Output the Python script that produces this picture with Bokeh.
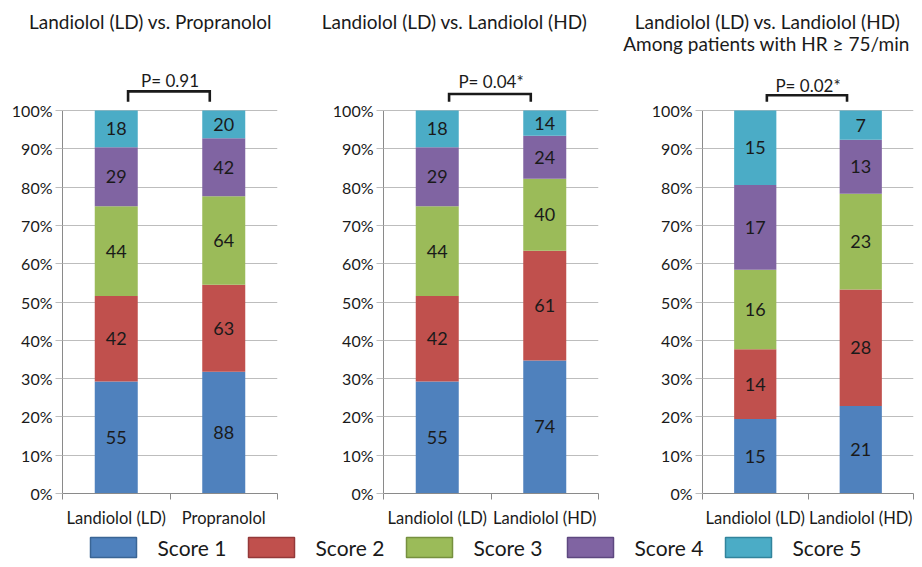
from bokeh.plotting import figure
from bokeh.models import Range1d, FixedTicker, ColumnDataSource, PrintfTickFormatter
from bokeh.layouts import row, column
from bokeh.embed import file_html
from bokeh.resources import INLINE
from bokeh.core.properties import value

# ---------------- data ----------------
scores = ["Score 1", "Score 2", "Score 3", "Score 4", "Score 5"]
colors = ["#4F81BD", "#C0504D", "#9BBB59", "#8064A2", "#4BACC6"]
edge_colors = ["#3A6595", "#94393A", "#76903F", "#5E4880", "#32849C"]

panel_titles = [
    ["Landiolol (LD) vs. Propranolol"],
    ["Landiolol (LD) vs. Landiolol (HD)"],
    ["Landiolol (LD) vs. Landiolol (HD)", "Among patients with HR \u2265 75/min"],
]
panel_categories = [
    ["Landiolol (LD)", "Propranolol"],
    ["Landiolol (LD)", "Landiolol (HD)"],
    ["Landiolol (LD)", "Landiolol (HD)"],
]
p_values = ["P= 0.91", "P= 0.04*", "P= 0.02*"]

# counts for Score 1..5
panel1_ld = [55, 42, 44, 29, 18]
panel1_prop = [88, 63, 64, 42, 20]
panel2_ld = [55, 42, 44, 29, 18]
panel2_hd = [74, 61, 40, 24, 14]
panel3_ld = [15, 14, 16, 17, 15]
panel3_hd = [21, 28, 23, 13, 7]
panel_counts = [[panel1_ld, panel1_prop], [panel2_ld, panel2_hd], [panel3_ld, panel3_hd]]

y_ticks = [0, 10, 20, 30, 40, 50, 60, 70, 80, 90, 100]

# ---------------- layout / style ----------------
FONT = "Lato"
TXT = "#1a1a1a"
GRID = "#bdbdbd"
AXIS = "#8a8a8a"
TOTAL_W = 914
TITLE_H = 58
PH = 473                     # panel figure height
FRAME_TOP = 4
FRAME_BOTTOM = 435           # in panel px
PX_PER_PCT = 3.83
YMAX = (FRAME_BOTTOM - FRAME_TOP) / PX_PER_PCT
LEG_H = 28

panel_widths = [328, 320, 266]
border_left = [62, 55, 53]
border_right = [51, 50, 1]
# title centres (x, y in px of the title strip)
title_pos = [[(150, 21)], [(454, 21)], [(767, 21), (766, 43)]]
bracket_top = [105.0, 104.3, 104.0]
bracket_bot = 102.3
p_text_y = [107.9, 107.6, 106.4]

legend_x = [90, 248, 406, 567, 725]
SWATCH_W = 46
LABEL_DX = 67


def pct(counts):
    tot = float(sum(counts))
    return [100.0 * c / tot for c in counts]


def bare_strip(height):
    f = figure(width=TOTAL_W, height=height, output_backend="svg", toolbar_location=None,
               x_range=Range1d(0, TOTAL_W), y_range=Range1d(height, 0),
               x_axis_location=None, y_axis_location=None, min_border=0, title=None)
    f.grid.visible = False
    f.outline_line_color = None
    return f


# ---------------- titles strip ----------------
tf = bare_strip(TITLE_H)
tx, ty, tt = [], [], []
for k in range(3):
    for line, (cx, cy) in zip(panel_titles[k], title_pos[k]):
        tx.append(cx); ty.append(cy); tt.append(line)
tf.text(x=tx, y=ty, text=tt, text_align="center", text_baseline="middle",
        text_font=value(FONT), text_font_size="19px", text_color=TXT)


def make_panel(k):
    cats = panel_categories[k]
    n = len(cats)
    xs = [i + 0.5 for i in range(n)]
    p = figure(width=panel_widths[k], height=PH, output_backend="svg", title=None,
               toolbar_location=None, x_range=Range1d(0, n), y_range=Range1d(0, YMAX),
               min_border_left=border_left[k], min_border_right=border_right[k],
               min_border_top=FRAME_TOP, min_border_bottom=PH - FRAME_BOTTOM)
    p.outline_line_color = None

    data = {"x": xs}
    shares = [pct(c) for c in panel_counts[k]]
    for j, s in enumerate(scores):
        data[s] = [shares[i][j] for i in range(n)]
    src = ColumnDataSource(data)
    p.vbar_stack(scores, x="x", width=0.4, fill_color=colors, line_color=None, source=src)

    # value labels
    lx, ly, lt = [], [], []
    for i in range(n):
        base = 0.0
        for j in range(len(scores)):
            h = shares[i][j]
            lx.append(xs[i]); ly.append(base + h / 2.0); lt.append(str(panel_counts[k][i][j]))
            base += h
    p.text(x=lx, y=ly, text=lt, text_align="center", text_baseline="middle",
           text_font=value(FONT), text_font_size="18px", text_color=TXT)

    # significance bracket
    bx = [xs[0] + 0.11, xs[0] + 0.11, xs[1] - 0.13, xs[1] - 0.13]
    by = [bracket_bot, bracket_top[k], bracket_top[k], bracket_bot]
    p.line(bx, by, line_color=TXT, line_width=2.6, line_join="miter")
    p.text(x=[(xs[0] + xs[1]) / 2.0], y=[p_text_y[k]], text=[p_values[k]],
           text_align="center", text_baseline="middle",
           text_font=value(FONT), text_font_size="17px", text_color=TXT)

    # axes
    xa = p.xaxis[0]
    xa.ticker = FixedTicker(ticks=xs, minor_ticks=list(range(n + 1)))
    xa.major_label_overrides = {xs[i]: cats[i] for i in range(n)}
    xa.major_tick_out = 0
    xa.major_tick_in = 0
    xa.minor_tick_out = 6
    xa.minor_tick_in = 0
    xa.minor_tick_line_color = AXIS
    xa.axis_line_color = AXIS
    xa.major_label_standoff = 8
    xa.major_label_text_font = FONT
    xa.major_label_text_font_size = "16.5px"
    xa.major_label_text_color = TXT

    ya = p.yaxis[0]
    ya.ticker = FixedTicker(ticks=y_ticks)
    ya.formatter = PrintfTickFormatter(format="%d%%")
    ya.bounds = (0, 100)
    ya.axis_line_color = AXIS
    ya.major_tick_line_color = GRID
    ya.major_tick_out = 7
    ya.major_tick_in = 0
    ya.minor_tick_line_color = None
    ya.major_label_standoff = 3
    ya.major_label_text_font = FONT
    ya.major_label_text_font_size = "16px"
    ya.major_label_text_color = TXT

    p.xgrid.visible = False
    p.ygrid.ticker = FixedTicker(ticks=y_ticks)
    p.ygrid.grid_line_color = GRID
    p.ygrid.level = "underlay"
    return p


panels = [make_panel(k) for k in range(3)]

# ---------------- legend strip ----------------
lf = bare_strip(LEG_H)
lf.quad(left=legend_x, right=[x + SWATCH_W for x in legend_x], top=6, bottom=26,
        fill_color=colors, line_color=edge_colors, line_width=1.5)
lf.text(x=[x + LABEL_DX for x in legend_x], y=16, text=scores, text_align="left",
        text_baseline="middle", text_font=value(FONT), text_font_size="21px", text_color=TXT)

layout = column(tf, row(*panels, spacing=0), lf, spacing=0)
open("out.html", "w").write(file_html(layout, INLINE))
